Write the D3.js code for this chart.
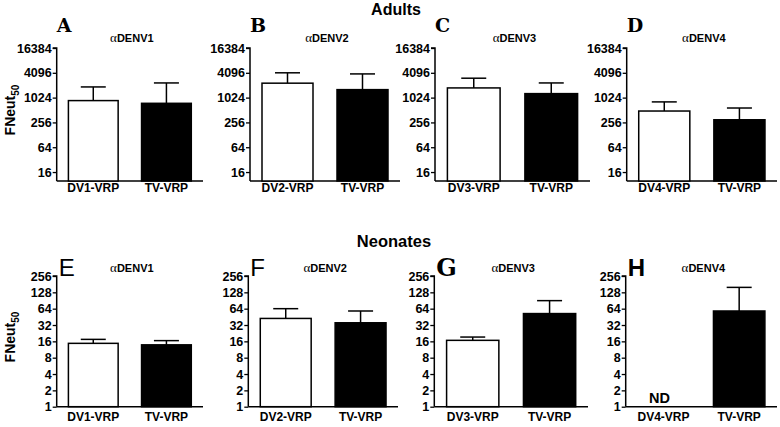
<!DOCTYPE html>
<html><head><meta charset="utf-8">
<script src="https://cdn.jsdelivr.net/npm/d3@7"></script>
<style>body{margin:0;background:#fff}svg{display:block}</style>
</head><body>
<script>
// ---- data ----
const panelLetters = ["A","B","C","D","E","F","G","H"];
const panelTitles = ["DENV1","DENV2","DENV3","DENV4"];
const categories = [["DV1-VRP","TV-VRP"],["DV2-VRP","TV-VRP"],["DV3-VRP","TV-VRP"],["DV4-VRP","TV-VRP"]];
const adultMeans = [[867,745],[2295,1600],[1760,1280],[484,297]];
const adultUpper = [[1860,2325],[4096,3850],[3030,2325],[806,573]];
const neoMeans = [[14.7,13.8],[42.3,35.2],[16.7,52],[null,58]];
const neoUpper = [[17.4,16.5],[64,58],[19.2,90],[null,158]];
const adultTicks = [16,64,256,1024,4096,16384];
const neoTicks = [1,2,4,8,16,32,64,128,256];
const rowTitles = ["Adults","Neonates"];

const W=780,H=427;
const svg=d3.select("body").append("svg").attr("width",W).attr("height",H);
const font="'Liberation Sans', Arial, sans-serif";

const axisX=[[56.7,250,435,626.7],[56.7,248.3,434.3,625.7]];
const axisEnd=[[203,400,590,777],[203,398,588,777]];
const rows=[
 {top:48,bottom:181,domain:[9.7,16384],ticks:adultTicks,means:adultMeans,upper:adultUpper,labelY:192,letterY:32,letterSize:19,titleY:42,ylabY:110},
 {top:276,bottom:406.7,domain:[1,256],ticks:neoTicks,means:neoMeans,upper:neoUpper,labelY:421,letterY:276,letterSize:24,titleY:272,ylabY:337}
];

svg.append("text").attr("x",396).attr("y",15).attr("text-anchor","middle")
  .attr("font-family",font).attr("font-weight","bold").attr("font-size",16).text(rowTitles[0]);
svg.append("text").attr("x",394).attr("y",247).attr("text-anchor","middle")
  .attr("font-family",font).attr("font-weight","bold").attr("font-size",16.5).text(rowTitles[1]);

rows.forEach((r,ri)=>{
  const y=d3.scaleLog().base(2).domain(r.domain).range([r.bottom,r.top]);
  const yl=svg.append("text").attr("transform",`translate(15,${r.ylabY}) rotate(-90)`)
    .attr("text-anchor","middle").attr("font-family",font).attr("font-weight","bold").attr("font-size",14);
  yl.append("tspan").text("FNeut");
  yl.append("tspan").attr("font-size",10).attr("dy",4).text("50");

  for(let p=0;p<4;p++){
    const x0=axisX[ri][p], x1=axisEnd[ri][p];
    const g=svg.append("g");
    const x=d3.scaleBand().domain(categories[p]).range([x0,x1]).paddingInner(0.32).paddingOuter(0.16);
    const ax=d3.axisLeft(y).tickValues(r.ticks).tickFormat(d3.format("d")).tickSize(4).tickPadding(1);
    const ag=g.append("g").attr("transform",`translate(${x0},0)`).call(ax);
    ag.attr("font-family",font).attr("font-size",12.5).attr("font-weight","bold");
    ag.select(".domain").attr("stroke","#000").attr("stroke-width",1.5).attr("d",`M-4,${r.top}H0V${r.bottom}`);
    ag.selectAll(".tick line").attr("stroke-width",1.3);
    ag.selectAll(".tick text").attr("fill","#000").style("font-weight","bold").style("font-size","12.5px");
    const xg=g.append("g").attr("transform",`translate(0,${r.bottom})`).call(d3.axisBottom(x).tickSize(0).tickPadding(7));
    xg.attr("font-family",font).attr("font-size",12).attr("font-weight","bold");
    xg.select(".domain").attr("stroke-width",1.5).attr("d",`M${x0},0H${x1}`);
    xg.selectAll(".tick text").attr("fill","#000").style("font-weight","bold").style("font-size","12px")
      .attr("y",r.labelY-r.bottom).attr("dy",0);
    categories[p].forEach((c,ci)=>{
      const m=r.means[p][ci], u=r.upper[p][ci];
      const cx=x(c)+x.bandwidth()/2;
      if(m==null){
        g.append("text").attr("x",cx-4).attr("y",r.bottom-4).attr("text-anchor","middle")
          .attr("font-family",font).attr("font-weight","bold").attr("font-size",14.5).text("ND");
        return;
      }
      g.append("line").attr("x1",cx).attr("x2",cx).attr("y1",y(m)).attr("y2",y(u)).attr("stroke","#000").attr("stroke-width",1.5);
      g.append("line").attr("x1",cx-12.5).attr("x2",cx+12.5).attr("y1",y(u)).attr("y2",y(u)).attr("stroke","#000").attr("stroke-width",1.5);
      g.append("rect").attr("x",x(c)).attr("width",x.bandwidth()).attr("y",y(m)).attr("height",r.bottom-y(m))
        .attr("fill",ci===0?"#fff":"#000").attr("stroke","#000").attr("stroke-width",1.5);
    });
    const t=g.append("text").attr("x",(x0+x1)/2+2).attr("y",r.titleY).attr("text-anchor","middle")
      .attr("font-family",font).attr("font-weight","bold").attr("font-size",11);
    t.append("tspan").attr("font-family","'Liberation Serif', serif").attr("font-weight","normal").attr("font-size",13).text("α");
    t.append("tspan").text(panelTitles[p]);
    const serif = ri===0 || p===2;
    g.append("text").attr("x",x0+(ri===0?0:2)).attr("y",r.letterY).attr("font-size",r.letterSize)
      .attr("font-family",serif?"'DejaVu Serif', serif":font)
      .attr("font-weight",(ri===1&&p===3)?"bold":(serif?"bold":"normal"))
      .text(panelLetters[ri*4+p]);
  }
});
</script>
</body></html>
